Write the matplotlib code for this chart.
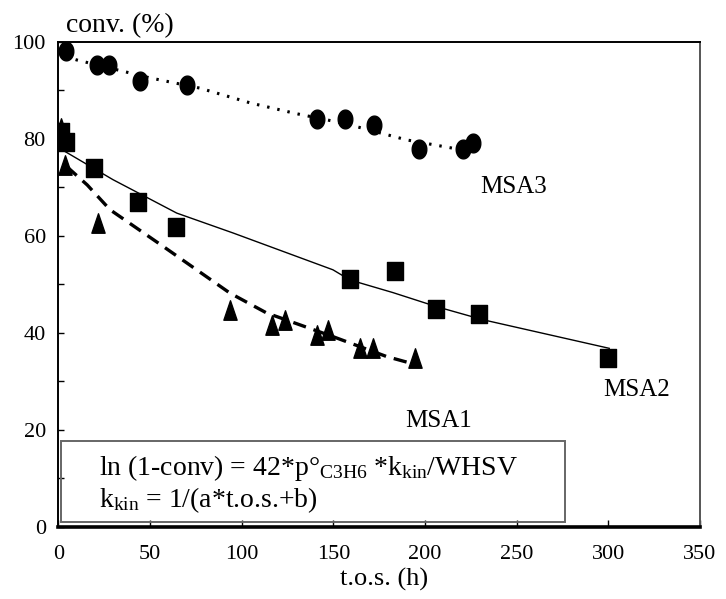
import matplotlib
matplotlib.use("Agg")
import matplotlib.pyplot as plt
from matplotlib.path import Path
from matplotlib.patches import Rectangle
import numpy as np

plt.rcParams['font.family'] = ['Liberation Serif', 'DejaVu Serif']
plt.rcParams['mathtext.fontset'] = 'custom'
plt.rcParams['mathtext.rm'] = 'Liberation Serif'
plt.rcParams['mathtext.it'] = 'Liberation Serif:italic'

# ---- data ----
msa3_t = [4.2, 20.9, 27.6, 44.5, 70.0, 140.9, 156.3, 172.1, 196.7, 220.8, 226.0]
msa3_c = [98.1, 95.2, 95.2, 92.0, 91.2, 84.1, 84.1, 82.9, 77.9, 77.9, 79.2]
msa3_fit_t = [4, 10, 50, 77, 105, 130, 156, 172, 190, 215, 221]
msa3_fit_c = [97.0, 96.3, 92.6, 90.5, 87.4, 85.2, 83.2, 81.6, 79.8, 78.1, 77.8]

msa2_t = [1.5, 4.0, 19.5, 43.6, 64.0, 159.1, 183.6, 205.9, 229.6, 299.9]
msa2_c = [81.5, 79.3, 74.0, 67.0, 61.9, 51.1, 52.8, 44.9, 43.9, 34.8]
msa2_fit_t = [3.7, 29.8, 64.6, 95.3, 149.8, 159.1, 182.5, 206.3, 231.6, 300.5]
msa2_fit_c = [77.4, 71.6, 64.7, 60.6, 53.0, 50.9, 48.3, 45.4, 42.7, 36.8]

msa1_t = [1.3, 3.7, 21.8, 93.6, 116.4, 123.6, 140.9, 147.2, 164.5, 171.4, 194.5]
msa1_c = [82.3, 74.7, 62.6, 44.7, 41.6, 42.7, 39.6, 40.6, 36.8, 36.8, 34.8]
msa1_fit_t = [4.6, 15.8, 28.2, 57.3, 93.6, 113.6, 149.9, 179.1, 195.4]
msa1_fit_c = [74.3, 70.5, 65.4, 57.8, 48.2, 44.1, 39.2, 35.1, 33.4]

xticks = [0, 50, 100, 150, 200, 250, 300, 350]
yticks = [0, 20, 40, 60, 80, 100]

# ---- custom (vertically stretched) markers ----
th = np.linspace(0, 2 * np.pi, 60)
ell = Path(np.column_stack([0.39 * np.cos(th), 0.5 * np.sin(th)]))
sq = Path([(-0.42, -0.5), (0.42, -0.5), (0.42, 0.5), (-0.42, 0.5), (-0.42, -0.5)],
          [Path.MOVETO, Path.LINETO, Path.LINETO, Path.LINETO, Path.CLOSEPOLY])
tri = Path([(-0.34, -0.5), (0.34, -0.5), (0.0, 0.5), (-0.34, -0.5)],
           [Path.MOVETO, Path.LINETO, Path.LINETO, Path.CLOSEPOLY])

fig = plt.figure(figsize=(7.26, 5.99), dpi=100)
ax = fig.add_axes([0.0803, 0.1207, 0.8839, 0.8092])

ax.plot(msa3_fit_t, msa3_fit_c, color='black', lw=2.2, ls=(0, (0.8, 2.6)), zorder=2)
ax.plot(msa2_fit_t, msa2_fit_c, color='black', lw=1.0, ls='-', zorder=2)
ax.plot(msa1_fit_t, msa1_fit_c, color='black', lw=2.4, ls=(0, (4.0, 2.4)), zorder=2)

ax.plot(msa3_t, msa3_c, ls='none', marker=ell, ms=13.5, color='black', zorder=3)
ax.plot(msa2_t, msa2_c, ls='none', marker=sq, ms=13.5, color='black', zorder=3)
ax.plot(msa1_t, msa1_c, ls='none', marker=tri, ms=14, color='black', zorder=3)

ax.set_xlim(0, 350)
ax.set_ylim(0, 100)
ax.set_xticks(xticks)
ax.set_xticklabels([str(v) for v in xticks])
ax.set_yticks(yticks)
ax.set_yticklabels([str(v) for v in yticks])
ax.set_yticks([10, 30, 50, 70, 90], minor=True)
ax.tick_params(axis='both', which='both', direction='in', labelsize=16, color='black')
ax.tick_params(axis='x', which='major', length=5, width=1.0, pad=13)
ax.tick_params(axis='y', which='both', length=4, width=1.0, pad=9)

for s in ['left', 'top']:
    ax.spines[s].set_linewidth(1.4)
ax.spines['bottom'].set_linewidth(2.6)
ax.spines['right'].set_linewidth(1.4)
ax.spines['right'].set_color('#555555')

# equation box
ax.add_patch(Rectangle((1.5, 1.0), 274.8, 16.7, fill=False, edgecolor='#666666',
                       lw=1.4, zorder=4, clip_on=False))
ax.text(22.2, 10.7, r"ln (1-conv) = 42*p°$_{\rm C3H6}$ *k$_{\rm kin}$/WHSV",
        fontsize=20, ha='left', va='baseline', zorder=5)
ax.text(22.2, 4.0, r"k$_{\rm kin}$ = 1/(a*t.o.s.+b)",
        fontsize=20, ha='left', va='baseline', zorder=5)

ax.text(230.0, 68.8, "MSA3", fontsize=18, ha='left', va='baseline')
ax.text(297.2, 27.0, "MSA2", fontsize=18, ha='left', va='baseline')
ax.text(189.0, 20.6, "MSA1", fontsize=18, ha='left', va='baseline')

fig.text(0.0905, 0.947, "conv. (%)", fontsize=20, ha='left', va='baseline')
fig.text(0.5296, 1 - 586 / 599, "t.o.s. (h)", fontsize=19, ha='center', va='baseline')

fig.savefig("out.png", dpi=100)
